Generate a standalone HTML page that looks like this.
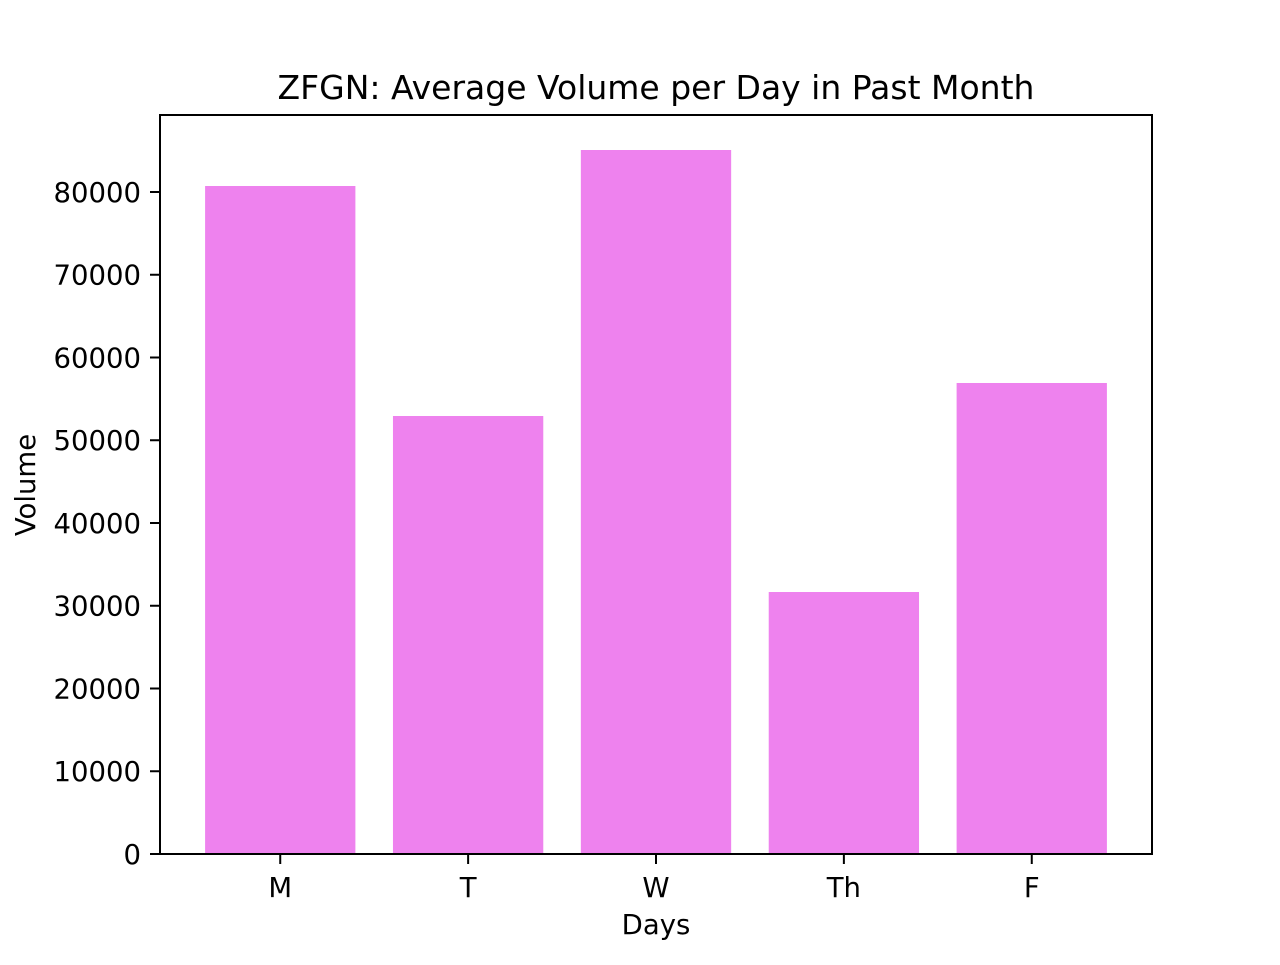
<!DOCTYPE html>
<html><head><meta charset="utf-8"><style>
body{margin:0;background:#fff;}
svg text{font-family:"DejaVu Sans","Liberation Sans",sans-serif;fill:#000;}
</style></head><body>
<svg id="chart" width="1280" height="960" xmlns="http://www.w3.org/2000/svg">
<rect width="1280" height="960" fill="#fff"/>
<g id="bars"></g><g id="axes"></g>
<text x="656" y="99" font-size="33" text-anchor="middle">ZFGN: Average Volume per Day in Past Month</text>
<text x="656" y="934" font-size="27.5" text-anchor="middle">Days</text>
<text x="0" y="0" font-size="27.5" text-anchor="middle" transform="translate(35,485) rotate(-90)">Volume</text>
</svg>
<script>
const categories = ["M","T","W","Th","F"];
const volumes = [80725, 52930, 85075, 31660, 56920];
const yTicks = [0,10000,20000,30000,40000,50000,60000,70000,80000];

const L=160,R=1152,T=115,B=854;
const yMax=89305;
const xMin=-0.64,xMax=4.64;
const ns="http://www.w3.org/2000/svg";
const xs=v=>L+(v-xMin)/(xMax-xMin)*(R-L);
const ys=v=>B-v/yMax*(B-T);
const bars=document.getElementById('bars'),axes=document.getElementById('axes');
function mk(tag,attrs,parent){const e=document.createElementNS(ns,tag);for(const k in attrs)e.setAttribute(k,attrs[k]);parent.appendChild(e);return e;}
categories.forEach((c,i)=>{
  const x0=xs(i-0.4),x1=xs(i+0.4);
  const r=mk('rect',{x:x0,y:ys(volumes[i]),width:x1-x0,height:B-ys(volumes[i]),fill:'#EE82EE'},bars);
  
  
  const t=mk('line',{x1:xs(i),x2:xs(i),y1:B,y2:B+10,stroke:'#000','stroke-width':2},axes);
  
  
  const lb=mk('text',{x:xs(i),y:B+43,'font-size':27.5,'text-anchor':'middle'},axes);
  lb.textContent=c;
  
  
});
yTicks.forEach(v=>{
  const t=mk('line',{x1:L-10,x2:L,y1:ys(v),y2:ys(v),stroke:'#000','stroke-width':2},axes);
  
  
  const lb=mk('text',{x:L-19,y:ys(v)+10,'font-size':27.5,'text-anchor':'end'},axes);
  lb.textContent=v;
  
  
});
const f=mk('rect',{x:L,y:T,width:R-L,height:B-T,fill:'none',stroke:'#000','stroke-width':2},axes);


</script>
</body></html>
